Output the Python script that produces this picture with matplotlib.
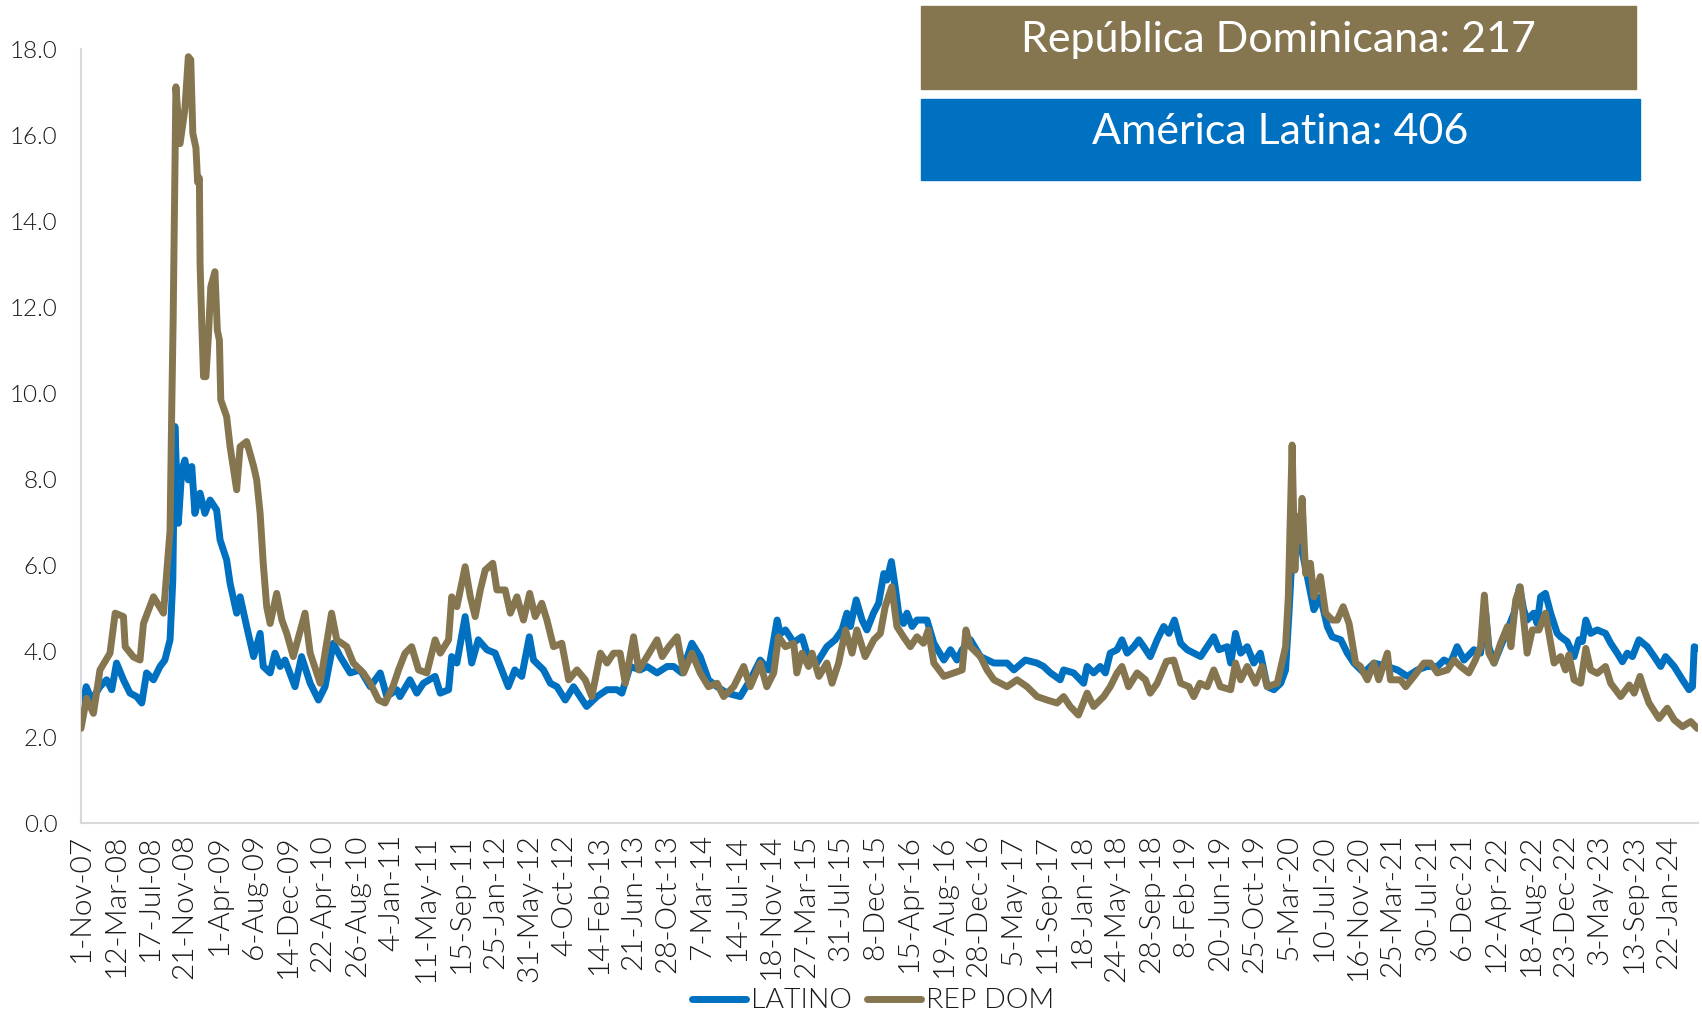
import matplotlib
matplotlib.use("Agg")
import matplotlib.pyplot as plt
from matplotlib.patches import Rectangle
from matplotlib.lines import Line2D

plt.rcParams['font.family'] = ['Lato', 'DejaVu Sans']

# ---------------- data ----------------
tick_labels = ["1-Nov-07", "12-Mar-08", "17-Jul-08", "21-Nov-08", "1-Apr-09", "6-Aug-09",
               "14-Dec-09", "22-Apr-10", "26-Aug-10", "4-Jan-11", "11-May-11", "15-Sep-11",
               "25-Jan-12", "31-May-12", "4-Oct-12", "14-Feb-13", "21-Jun-13", "28-Oct-13",
               "7-Mar-14", "14-Jul-14", "18-Nov-14", "27-Mar-15", "31-Jul-15", "8-Dec-15",
               "15-Apr-16", "19-Aug-16", "28-Dec-16", "5-May-17", "11-Sep-17", "18-Jan-18",
               "24-May-18", "28-Sep-18", "8-Feb-19", "20-Jun-19", "25-Oct-19", "5-Mar-20",
               "10-Jul-20", "16-Nov-20", "25-Mar-21", "30-Jul-21", "6-Dec-21", "12-Apr-22",
               "18-Aug-22", "23-Dec-22", "3-May-23", "13-Sep-23", "22-Jan-24"]

# positions in units of category-tick intervals
latino_pos = [0, 0.15, 0.31, 0.55, 0.74, 0.89, 1.03, 1.23, 1.42, 1.61, 1.76, 1.90, 2.10, 2.29,
              2.43, 2.58, 2.66, 2.72, 2.82, 2.92, 3.01, 3.11, 3.21, 3.30, 3.45, 3.59, 3.74, 3.93,
              4.03, 4.22, 4.32, 4.51, 4.61, 4.80, 5.00, 5.19, 5.28, 5.48, 5.62, 5.77, 5.91, 6.20,
              6.39, 6.64, 6.88, 7.07, 7.31, 7.51, 7.80, 8.09, 8.38, 8.67, 8.86, 9.15, 9.24, 9.53,
              9.73, 9.92, 10.26, 10.41, 10.65, 10.74, 10.89, 11.13, 11.32, 11.51, 11.76, 12.00,
              12.19, 12.38, 12.57, 12.77, 12.99, 13.11, 13.40, 13.60, 13.79, 14.03, 14.27, 14.46,
              14.65, 14.95, 15.24, 15.53, 15.67, 15.91, 16.20, 16.40, 16.69, 16.98, 17.17, 17.41,
              17.70, 17.94, 18.18, 18.43, 18.72, 19.10, 19.39, 19.68, 19.92, 20.17, 20.26, 20.41,
              20.65, 20.89, 21.03, 21.32, 21.61, 21.85, 22.05, 22.19, 22.29, 22.46, 22.63, 22.77,
              22.96, 23.11, 23.26, 23.35, 23.48, 23.59, 23.69, 23.83, 23.93, 24.08, 24.22, 24.51,
              24.71, 25.00, 25.19, 25.38, 25.53, 25.77, 26.06, 26.45, 26.83, 27.03, 27.36, 27.70,
              27.89, 28.09, 28.37, 28.47, 28.76, 29.05, 29.15, 29.34, 29.53, 29.68, 29.82, 30.02,
              30.16, 30.31, 30.50, 30.65, 30.79, 30.98, 31.18, 31.37, 31.52, 31.68, 31.86, 32.05,
              32.44, 32.63, 32.82, 32.97, 33.21, 33.31, 33.45, 33.60, 33.79, 33.98, 34.17, 34.37,
              34.56, 34.76, 34.90, 35.00, 35.09, 35.24, 35.33, 35.53, 35.72, 35.91, 36.11, 36.25,
              36.50, 36.69, 36.88, 37.17, 37.46, 37.85, 38.14, 38.43, 38.72, 39.00, 39.30, 39.49,
              39.68, 39.87, 40.07, 40.36, 40.55, 40.70, 40.79, 40.94, 41.13, 41.33, 41.52, 41.68,
              41.80, 41.90, 42.09, 42.19, 42.29, 42.43, 42.58, 42.77, 42.87, 43.06, 43.26, 43.40,
              43.50, 43.60, 43.74, 43.93, 44.17, 44.32, 44.51, 44.66, 44.80, 44.95, 45.14, 45.38,
              45.58, 45.77, 45.91, 46.16, 46.40, 46.59, 46.69, 46.74, 46.83]
latino_val = [2.55, 3.17, 2.86, 3.17, 3.33, 3.10, 3.72, 3.33, 3.02, 2.94, 2.79, 3.49, 3.33, 3.64,
              3.79, 4.26, 5.65, 9.22, 6.97, 8.21, 8.44, 7.98, 8.29, 7.20, 7.67, 7.20, 7.51, 7.28,
              6.58, 6.12, 5.57, 4.88, 5.26, 4.57, 3.87, 4.41, 3.64, 3.49, 3.95, 3.64, 3.79, 3.17,
              3.87, 3.25, 2.86, 3.17, 4.18, 3.87, 3.49, 3.56, 3.17, 3.49, 2.94, 3.10, 2.94, 3.33,
              3.02, 3.25, 3.41, 3.02, 3.10, 3.87, 3.72, 4.80, 3.72, 4.26, 4.03, 3.95,
              3.56, 3.17, 3.56, 3.41, 4.33, 3.79, 3.56, 3.25, 3.17, 2.86, 3.17, 2.94,
              2.71, 2.94, 3.10, 3.10, 3.02, 3.64, 3.56, 3.64, 3.49, 3.64, 3.64, 3.49,
              4.18, 3.87, 3.33, 3.17, 3.02, 2.94, 3.33, 3.79, 3.56, 4.72, 4.40, 4.49,
              4.20, 4.33, 3.95, 3.72, 4.10, 4.26, 4.49, 4.88, 4.57, 5.19, 4.72, 4.49,
              4.88, 5.11, 5.80, 5.65, 6.08, 5.49, 4.88, 4.64, 4.88, 4.57, 4.72, 4.72,
              4.18, 3.79, 4.03, 3.79, 4.03, 4.26, 3.87, 3.72, 3.72, 3.56, 3.79, 3.72,
              3.64, 3.49, 3.33, 3.56, 3.49, 3.25, 3.64, 3.49, 3.64, 3.49, 3.95, 4.03,
              4.26, 3.95, 4.10, 4.26, 4.10, 3.87, 4.26, 4.57, 4.41, 4.72, 4.18, 4.03,
              3.87, 4.10, 4.33, 4.03, 4.10, 3.72, 4.41, 3.95, 4.10, 3.72, 3.95, 3.17,
              3.10, 3.25, 3.56, 4.88, 6.27, 6.35, 6.50, 5.73, 4.96, 5.26, 4.57, 4.33,
              4.26, 3.95, 3.72, 3.49, 3.72, 3.64, 3.56, 3.41, 3.56, 3.64, 3.64, 3.79,
              3.72, 4.10, 3.79, 4.03, 3.95, 4.88, 4.10, 3.72, 4.10, 4.49, 4.88, 5.49,
              4.96, 4.72, 4.88, 4.64, 5.26, 5.34, 4.88, 4.41, 4.33, 4.22, 3.87, 4.26,
              4.22, 4.72, 4.41, 4.49, 4.41, 4.18, 3.95, 3.75, 3.95, 3.87, 4.26, 4.10,
              3.87, 3.64, 3.87, 3.64, 3.33, 3.10, 3.17, 4.10, 4.06]

repdom_pos = [0, 0.16, 0.36, 0.55, 0.84, 0.99, 1.23, 1.28, 1.52, 1.71, 1.81, 2.10, 2.39, 2.48,
              2.58, 2.63, 2.67, 2.75, 2.87, 3.01, 3.11, 3.18, 3.24, 3.33, 3.38, 3.43, 3.45, 3.50,
              3.55, 3.62, 3.69, 3.76, 3.88, 3.95, 4.01, 4.05, 4.22, 4.32, 4.51, 4.61, 4.80, 5.00,
              5.09, 5.19, 5.28, 5.38, 5.48, 5.67, 5.82, 5.96, 6.15, 6.49, 6.64, 6.93, 7.07, 7.26,
              7.41, 7.70, 7.89, 8.18, 8.38, 8.62, 8.81, 9.05, 9.20, 9.39, 9.58, 9.78, 10.02, 10.26,
              10.41, 10.65, 10.74, 10.89, 11.13, 11.28, 11.42, 11.57, 11.71, 11.93, 12.05, 12.29,
              12.44, 12.63, 12.82, 13.00, 13.16, 13.35, 13.50, 13.69, 13.93, 14.13, 14.37, 14.61,
              14.80, 15.05, 15.24, 15.43, 15.62, 15.77, 16.01, 16.16, 16.40, 16.69, 16.84, 17.03,
              17.27, 17.46, 17.70, 17.94, 18.18, 18.43, 18.62, 18.91, 19.20, 19.39, 19.68, 19.87,
              20.07, 20.21, 20.41, 20.65, 20.74, 20.89, 21.08, 21.18, 21.38, 21.61, 21.76, 21.95,
              22.15, 22.34, 22.48, 22.72, 22.97, 23.16, 23.30, 23.49, 23.64, 23.83, 24.03, 24.22,
              24.41, 24.55, 24.71, 25.00, 25.29, 25.53, 25.64, 25.77, 26.06, 26.25, 26.45, 26.83,
              27.12, 27.41, 27.70, 27.99, 28.28, 28.47, 28.66, 28.90, 29.15, 29.34, 29.63, 29.82,
              30.02, 30.16, 30.35, 30.60, 30.84, 30.98, 31.18, 31.45, 31.66, 31.86, 32.10, 32.24,
              32.42, 32.63, 32.82, 33.01, 33.31, 33.45, 33.60, 33.79, 34.03, 34.22, 34.37, 34.66,
              34.90, 34.98, 35.09, 35.17, 35.24, 35.31, 35.38, 35.48, 35.62, 35.72, 35.91, 36.06,
              36.25, 36.40, 36.57, 36.74, 36.93, 37.07, 37.27, 37.46, 37.60, 37.85, 37.94, 38.23,
              38.38, 38.62, 38.91, 39.10, 39.30, 39.59, 39.78, 39.97, 40.21, 40.40, 40.55, 40.66,
              40.79, 40.94, 41.13, 41.33, 41.43, 41.57, 41.70, 41.80, 41.90, 42.05, 42.24, 42.43,
              42.58, 42.68, 42.87, 43.01, 43.11, 43.26, 43.45, 43.60, 43.74, 43.93, 44.17, 44.32,
              44.61, 44.86, 45.00, 45.17, 45.29, 45.43, 45.72, 45.96, 46.16, 46.40, 46.64, 46.83]
repdom_val = [2.20, 2.90, 2.55, 3.56, 3.95, 4.88, 4.80, 4.10, 3.86, 3.79, 4.64, 5.26, 4.88, 5.80,
              6.80, 9.68, 11.70, 17.12, 15.80, 16.60, 17.82, 17.75, 16.04, 15.70, 14.90, 15.00, 13.00, 11.60,
              10.38, 10.38, 11.30, 12.47, 12.82, 11.46, 11.23, 9.84, 9.45, 8.75, 7.75, 8.75, 8.87, 8.30,
              7.98, 7.20, 6.04, 5.03, 4.64, 5.34, 4.72, 4.41, 3.87, 4.88, 3.95, 3.25, 3.95, 4.88,
              4.26, 4.10, 3.72, 3.49, 3.25, 2.86, 2.79, 3.20, 3.56, 3.95, 4.10, 3.56, 3.49, 4.26,
              3.95, 4.26, 5.26, 5.03, 5.96, 5.26, 4.80, 5.42, 5.88, 6.04, 5.42, 5.42,
              4.88, 5.26, 4.72, 5.34, 4.80, 5.11, 4.72, 4.10, 4.18, 3.33, 3.56, 3.33,
              2.94, 3.95, 3.72, 3.95, 3.95, 3.25, 4.33, 3.56, 3.87, 4.26, 3.87, 4.10,
              4.33, 3.49, 3.95, 3.49, 3.17, 3.25, 2.94, 3.17, 3.64, 3.17, 3.72, 3.17,
              3.49, 4.33, 4.10, 4.18, 3.49, 3.95, 3.64, 3.95, 3.41, 3.72, 3.25, 3.72,
              4.49, 3.95, 4.49, 3.87, 4.26, 4.41, 5.03, 5.49, 4.57, 4.33, 4.10, 4.33,
              4.18, 4.49, 3.72, 3.41, 3.49, 3.56, 4.49, 4.10, 3.87, 3.56, 3.33, 3.17,
              3.33, 3.17, 2.94, 2.86, 2.79, 2.94, 2.71, 2.51, 3.02, 2.71, 2.94, 3.17,
              3.49, 3.64, 3.17, 3.49, 3.33, 3.02, 3.25, 3.76, 3.79, 3.25, 3.17, 2.94,
              3.25, 3.17, 3.56, 3.17, 3.10, 3.72, 3.33, 3.64, 3.25, 3.64, 3.17, 3.25,
              4.10, 5.26, 8.79, 5.88, 7.12, 6.58, 7.55, 5.80, 6.04, 5.26, 5.73, 4.88,
              4.72, 4.72, 5.03, 4.64, 3.72, 3.64, 3.33, 3.72, 3.33, 3.95, 3.33, 3.33,
              3.17, 3.41, 3.72, 3.72, 3.49, 3.56, 3.79, 3.64, 3.49, 3.79, 4.10, 5.30,
              3.95, 3.72, 4.18, 4.57, 4.10, 5.19, 5.49, 4.72, 3.95, 4.49, 4.49, 4.88,
              4.18, 3.72, 3.87, 3.56, 3.91, 3.33, 3.25, 4.06, 3.56, 3.48, 3.64, 3.25,
              2.94, 3.21, 3.02, 3.41, 3.10, 2.79, 2.43, 2.67, 2.40, 2.24, 2.36, 2.20]

series_names = ["LATINO", "REP DOM"]
box_texts = ["República Dominicana: 217", "América Latina: 406"]

# ---------------- style ----------------
BLUE = "#0070C0"
BROWN = "#857650"
GRID = "#D9D9D9"
TXT = "#1A1A1A"

W, H = 1702, 1017
fig = plt.figure(figsize=(W / 100, H / 100), dpi=100)
ax = fig.add_axes([81 / W, 1 - 823 / H, (1698 - 81) / W, (823 - 49) / H])

ax.plot(latino_pos, latino_val, color=BLUE, lw=5, solid_joinstyle="round",
        solid_capstyle="round", zorder=2)
ax.plot(repdom_pos, repdom_val, color=BROWN, lw=5, solid_joinstyle="round",
        solid_capstyle="round", zorder=3)

ax.set_ylim(0, 18)
ax.set_xlim(0, 46.85)
ax.set_yticks([0, 2, 4, 6, 8, 10, 12, 14, 16, 18])
ax.set_yticklabels([f"{v:.1f}" for v in range(0, 19, 2)])
ax.set_xticks(range(len(tick_labels)))
ax.set_xticklabels(tick_labels, rotation=90)
ax.tick_params(axis="y", length=0, pad=17, labelsize=17.5, labelcolor=TXT)
ax.tick_params(axis="x", length=0, pad=8, labelsize=21.5, labelcolor=TXT)
for lab in ax.get_xticklabels() + ax.get_yticklabels():
    lab.set_fontweight(300)

for s in ["top", "right"]:
    ax.spines[s].set_visible(False)
for s in ["left", "bottom"]:
    ax.spines[s].set_color(GRID)
    ax.spines[s].set_linewidth(1.5)

# value boxes
fig.patches.append(Rectangle((921 / W, 1 - 89 / H), 715 / W, 82.5 / H,
                             transform=fig.transFigure, color=BROWN, zorder=5))
fig.patches.append(Rectangle((921 / W, 1 - 180 / H), 719 / W, 81 / H,
                             transform=fig.transFigure, color=BLUE, zorder=5))
fig.text(1278 / W, 1 - 52 / H, box_texts[0], color="white", fontsize=31,
         ha="center", va="baseline", zorder=6)
fig.text(1280 / W, 1 - 144 / H, box_texts[1], color="white", fontsize=31,
         ha="center", va="baseline", zorder=6)

handles = [Line2D([], [], color=BLUE, lw=5, solid_capstyle="round"),
           Line2D([], [], color=BROWN, lw=5, solid_capstyle="round")]
leg = fig.legend(handles, series_names, loc="center", bbox_to_anchor=(873 / W, 1 - 1001 / H),
                 ncol=2, frameon=False, fontsize=20.5, handlelength=1.9, handletextpad=0.17,
                 columnspacing=0.55, borderpad=0, borderaxespad=0)
for t in leg.get_texts():
    t.set_color(TXT)
    t.set_fontweight(300)

fig.savefig("out.png", dpi=100)
